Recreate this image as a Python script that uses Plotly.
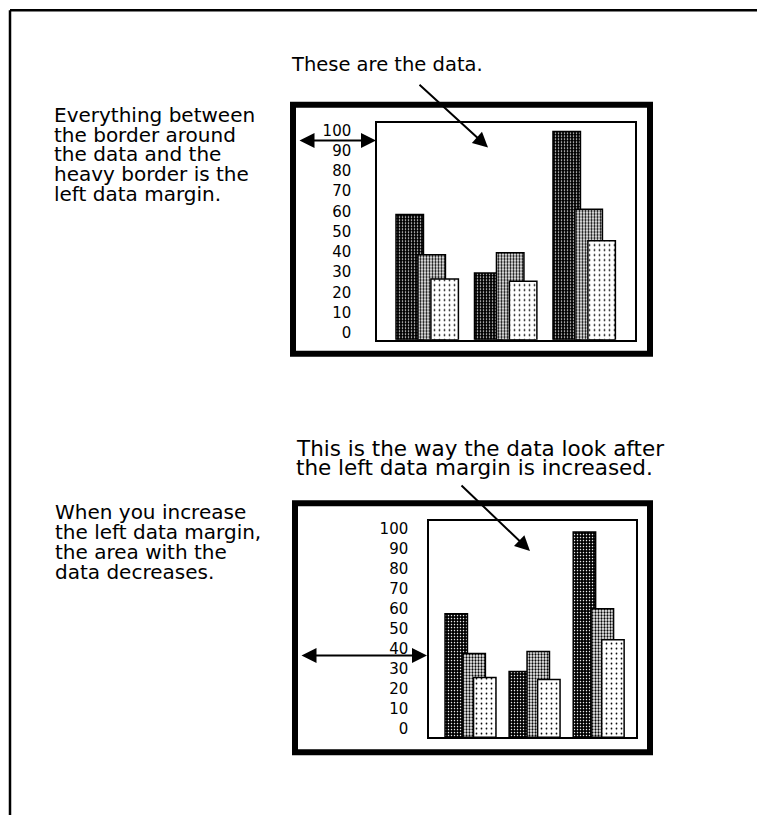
import plotly.graph_objects as go

# ---------------- data ----------------
groups = [0, 1, 2]
series_dark = [62, 33, 103]
series_medium = [42, 43, 64.5]
series_light = [30, 29, 49]
tick_values = [0, 10, 20, 30, 40, 50, 60, 70, 80, 90, 100]
tick_labels = ["0", "10", "20", "30", "40", "50", "60", "70", "80", "90", "100"]

top_heading = ["These are the data."]
top_note = ["Everything between", "the border around", "the data and the",
            "heavy border is the", "left data margin."]
bottom_heading = ["This is the way the data look after",
                  "the left data margin is increased."]
bottom_note = ["When you increase", "the left data margin,",
               "the area with the", "data decreases."]

# the page body has an 8px margin; the figure is laid out in page pixels minus it
OFF = 8
W, H = 765 - OFF, 817 - OFF
FONT = "DejaVu Sans"


def px(x):
    return (x - OFF) / W


def py(y):
    return 1 - (y - OFF) / H


BAR_W = 0.35
OFFSETS = [0.0, 0.28, 0.445]
styles = [
    dict(shape=".", fgcolor="white", bgcolor="black", size=3, solidity=0.2, fillmode="replace"),
    dict(shape=".", fgcolor="black", bgcolor="white", size=3, solidity=0.45, fillmode="replace"),
    dict(shape=".", fgcolor="black", bgcolor="white", size=5, solidity=0.1, fillmode="replace"),
]

fig = go.Figure()
for xa, ya in [("x", "y"), ("x2", "y2")]:
    for vals, off, st in zip([series_dark, series_medium, series_light], OFFSETS, styles):
        fig.add_trace(go.Bar(
            x=groups, y=vals, width=BAR_W, offset=off, xaxis=xa, yaxis=ya,
            marker=dict(color=st["bgcolor"], pattern=st,
                        line=dict(color="black", width=1.5)),
            showlegend=False, hoverinfo="skip"))

axis_common = dict(showgrid=False, zeroline=False, showline=True, mirror=True,
                   linecolor="black", linewidth=1.5, fixedrange=True)

fig.update_layout(
    width=W, height=H, margin=dict(l=0, r=0, t=0, b=0),
    paper_bgcolor="white", plot_bgcolor="white", barmode="overlay",
    xaxis=dict(domain=[px(377), px(635)], range=[-0.242, 3.045], anchor="y",
               showticklabels=False, ticks="", **axis_common),
    yaxis=dict(domain=[py(340), py(122)], range=[0, 107.4], anchor="x",
               tickvals=tick_values, ticktext=tick_labels, ticks="",
               tickfont=dict(family=FONT, size=15, color="black"),
               ticklabelstandoff=21, ticklabelshift=-7, **axis_common),
    xaxis2=dict(domain=[px(429), px(636)], range=[-0.25, 2.98], anchor="y2",
                showticklabels=False, ticks="", **axis_common),
    yaxis2=dict(domain=[py(739), py(522)], range=[0, 108.5], anchor="x2",
                tickvals=tick_values, ticktext=tick_labels, ticks="",
                tickfont=dict(family=FONT, size=15, color="black"),
                ticklabelstandoff=16, ticklabelshift=-9, **axis_common),
)

shapes = []
# page frame lines
shapes.append(dict(type="line", xref="paper", yref="paper", x0=px(10), y0=py(9.2), x1=1.0, y1=py(9.2),
                   line=dict(color="black", width=2.5)))
shapes.append(dict(type="line", xref="paper", yref="paper", x0=px(10), y0=py(9.2), x1=px(10), y1=0.0,
                   line=dict(color="black", width=2.5)))
# heavy borders
for (x0, y0, x1, y1) in [(293, 104, 650, 354), (295, 504, 650, 754)]:
    shapes.append(dict(type="rect", xref="paper", yref="paper", x0=px(x0), y0=py(y0), x1=px(x1), y1=py(y1),
                       line=dict(color="black", width=6), fillcolor="rgba(0,0,0,0)", layer="above"))
fig.update_layout(shapes=shapes)

ann = []


def text_lines(lines, x, y0, pitch, size):
    for i, t in enumerate(lines):
        ann.append(dict(text=t, x=px(x), y=py(y0 + i * pitch), xref="paper", yref="paper",
                        xanchor="left", yanchor="middle", showarrow=False,
                        font=dict(family=FONT, size=size, color="black")))


text_lines(top_heading, 289, 64, 19, 19.5)
text_lines(top_note, 52, 114, 20, 20)
text_lines(bottom_heading, 294, 449, 19, 21.5)
text_lines(bottom_note, 53, 513, 20, 20)


def arrow(x_tail, y_tail, x_tip, y_tip, both=False):
    ann.append(dict(text="", x=px(x_tip), y=py(y_tip), xref="paper", yref="paper",
                    ax=x_tail - x_tip, ay=y_tail - y_tip, axref="pixel", ayref="pixel",
                    showarrow=True, arrowhead=2, arrowsize=1.5, arrowwidth=2,
                    arrowcolor="black", arrowside="end+start" if both else "end",
                    startarrowhead=2, startarrowsize=1.5))


arrow(298, 140, 376, 140, both=True)
arrow(418, 83, 488, 147)
arrow(460, 485, 530, 552)
arrow(300, 657, 427, 657, both=True)

fig.update_layout(annotations=ann)
fig.write_html("out.html")
